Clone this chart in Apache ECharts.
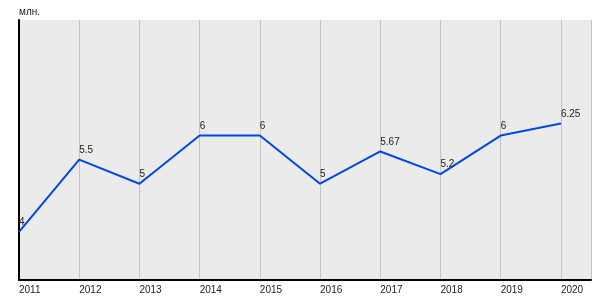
<!DOCTYPE html>
<html>
<head>
<meta charset="utf-8">
<script src="https://cdn.jsdelivr.net/npm/echarts@6/dist/echarts.min.js"></script>
<style>
  html, body { margin: 0; padding: 0; background: #fff; }
  #chart { width: 600px; height: 300px; }
</style>
</head>
<body>
<div id="chart"></div>
<script>
const years = [2011, 2012, 2013, 2014, 2015, 2016, 2017, 2018, 2019, 2020]
const values = [4, 5.5, 5, 6, 6, 5, 5.67, 5.2, 6, 6.25]
const unitName = 'млн.'

const chart = echarts.init(document.getElementById('chart'))

const option = {
  animation: false,
  textStyle: { fontFamily: 'Liberation Sans, Arial, sans-serif' },
  grid: { left: 19, right: 9, top: 20, bottom: 20, show: true, backgroundColor: '#ebebeb', borderWidth: 0 },
  xAxis: {
    type: 'value',
    min: 2011,
    max: 2020.5,
    interval: 1,
    axisLine: { show: true, lineStyle: { color: '#000', width: 2 } },
    axisTick: { show: false },
    axisLabel: {
      color: '#222', fontSize: 10, margin: 5, align: 'left',
      formatter: (v) => (v <= 2020 && Number.isInteger(v) ? String(v) : '')
    },
    splitLine: { show: true, lineStyle: { color: '#c4c4c4', width: 1 } }
  },
  yAxis: {
    type: 'value',
    min: 3,
    max: 8.4,
    name: unitName,
    nameLocation: 'end',
    nameGap: 3,
    nameTextStyle: { color: '#222', fontSize: 10, align: 'left' },
    axisLine: { show: true, onZero: false, lineStyle: { color: '#000', width: 2 } },
    axisTick: { show: false },
    axisLabel: { show: false },
    splitLine: { show: false }
  },
  series: [{
    type: 'line',
    data: years.map((y, i) => [y, values[i]]),
    symbol: 'circle',
    symbolSize: 1,
    showSymbol: true,
    itemStyle: { color: '#0047e6' },
    lineStyle: { color: '#0047e6', width: 2 },
    label: {
      show: true,
      position: 'top',
      align: 'left',
      distance: 4,
      color: '#222',
      fontSize: 10,
      formatter: (p) => String(p.value[1])
    }
  }]
}

chart.setOption(option)
</script>
</body>
</html>
